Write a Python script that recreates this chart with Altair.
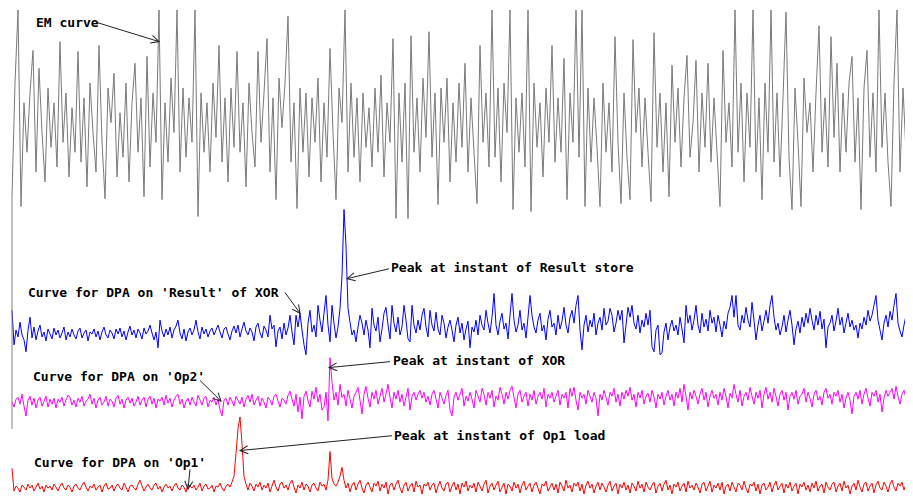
import math
import altair as alt
import pandas as pd

# ---------------- data ----------------
# EM curve (one sample every 3 time units)
em = [
    -85, 30, 104, -95, 10, -40, 20, 63, -60, 45,
    -20, -70, 25, -35, 10, -55, 72, -30, 20, -65,
    5, -40, 62, -50, 15, -75, 30, -20, -60, 68,
    -30, -87, 25, -10, 40, -65, 0, -45, 30, -70,
    10, 50, -40, 15, -85, 57, -55, 20, -30, 104,
    -88, 10, -50, 35, -20, 104, -60, 25, -45, 15,
    -30, 104, -105, 20, -40, 10, -60, 30, -25, 68,
    -50, 15, -70, 25, -35, 62, -40, 10, -75, 30,
    -20, -55, 62, -30, 20, 75, -60, 15, -88, 35,
    -15, 30, 98, -50, 10, -97, 25, -40, 20, -65,
    15, -30, 35, -70, 10, -45, 65, -20, -88, 25,
    -10, 104, -60, 30, -45, 15, -70, 20, -35, 5,
    -55, 25, -40, 38, -65, 10, -30, 75, -107, 20,
    -50, 30, -107, 78, -40, 15, -60, 35, -25, 82,
    -45, 20, -93, 25, -30, 35, -70, 10, -50, 30,
    -35, 50, -60, 15, -40, -92, 68, -30, 20, -55,
    104, -45, 25, -70, 30, -20, 104, -98, 15, -40,
    20, -55, 104, -100, 30, -35, 10, -65, 25, -30,
    68, -50, 15, -40, 55, -88, 20, -30, 104, -45,
    104, -95, 25, -50, 15, -35, -95, 30, -40, 10,
    -60, 77, -30, -92, 20, -45, -88, 74, -20, 25,
    -55, 15, -40, -90, 81, -35, 20, -60, 10, -85,
    48, -30, 25, -55, 15, 58, -45, -10, 53, -60,
    20, -35, 50, -50, 15, -40, -95, 63, -30, 10,
    -55, 104, -40, 30, -70, 20, -35, 104, -60, 15,
    -88, 30, -40, 104, -50, 20, -65, 15, 102, -45,
    -98, 25, -30, -95, 35, -20, 10, -60, 20, 88,
    -40, 15, -55, 77, -25, 50, -60, 20, -40, 30,
    57, -50, 15, -98, 25, 63, -45, 20, -60, 104,
    -35, 20, -50, -95, 30, 104, -60, 25, -40, 15,
]

# DPA on 'Result' of XOR (one sample every 2 time units)
dpa_result = [
    25, -10, 5, -2, 13, 0, -5, -17, 5, 18,
    -3, 8, -5, 4, 10, -2, 3, -6, 6, 1,
    -4, 7, 0, 5, -3, 2, 8, -5, 3, -2,
    6, 0, -4, 4, 7, -3, 2, 5, -6, 3,
    1, 6, -2, 4, -5, 3, 8, 0, -3, 5,
    2, -4, 6, 1, 7, -2, 4, -5, 3, 9,
    0, 5, -3, 6, 2, -4, 7, 1, 4, 10,
    2, -5, 3, -13, 15, 4, -2, 6, 0, 8,
    -3, 5, 9, 15, 2, -4, 6, -6, 3, 7,
    0, 5, 15, 3, -4, 8, 1, 6, -2, 4,
    7, 0, 5, 10, 3, -3, 6, 8, 1, -5,
    4, 9, 2, 10, -2, 6, 13, 4, 0, 7,
    3, -6, 8, 12, 2, -3, 9, 5, -2, 20,
    6, 10, -12, 4, 8, -4, 12, 0, 7, 20,
    3, -10, 20, 8, 22, 5, -10, -20, 12, 25,
    3, 10, -2, 30, 15, 3, 22, 40, 10, -7,
    30, 12, -3, 8, 27, 60, 127, 90, 27, 13,
    0, 5, -7, 8, 20, 12, 0, 15, 5, -13,
    27, 10, 4, 18, -7, 6, 22, 28, 10, -4,
    30, 12, 3, 18, 0, 8, 30, 15, -4, -7,
    30, 10, 2, 15, 5, 20, 27, 8, -2, 25,
    10, 4, 23, 6, 0, 20, 12, -3, 8, 15,
    5, -7, 10, 18, 2, 12, -5, 6, 14, -13,
    8, 3, 15, 0, 20, 10, 5, 25, 12, 2,
    18, 42, 10, 0, 14, 22, 6, 12, -4, 20,
    42, 15, 3, 10, 25, 5, 12, -3, 18, 40,
    20, 8, 2, 15, 22, 4, 10, -5, 16, 25,
    8, 12, 0, 20, 6, 14, 28, 10, 2, 18,
    25, 12, 30, 40, 5, -15, 10, 20, 3, 15,
    8, 22, 0, 12, 18, 5, 27, 10, 14, 27,
    20, 3, 12, 25, 15, 25, -8, 10, 28, 18,
    30, 12, 6, 20, 2, 15, 8, 22, 10, 25,
    -12, -17, 5, 10, -20, -18, 3, 12, -5, 8,
    15, 4, 10, 0, 18, 6, -8, 30, 12, 20,
    5, 15, 30, 10, 2, 22, 8, 16, 4, 25,
    12, 18, 3, 20, 10, -2, 14, 6, 22, 28,
    40, 18, 40, 10, 5, 20, 12, 28, 15, 8,
    33, 15, -5, 10, 20, 4, 14, 25, 12, 30,
    40, 18, 5, 12, 0, 8, 20, 3, 15, 25,
    10, -10, 6, 14, 2, 18, 8, 22, 12, 27,
    15, 5, 20, 10, 24, 6, 16, -13, 8, 12,
    20, 4, 14, 27, 10, 18, 2, 12, 22, 8,
    15, 5, 10, -3, 12, 6, 18, 10, 25, 14,
    20, 30, 40, 15, 5, -5, 12, 20, 8, 24,
    15, 30, 42, 12, 4, -2, 10, 20, 6, 17,
]

# DPA on 'Op2'
dpa_op2 = [
    0, -5, 3, 5, -2, 8, -4, -14, 2, 6,
    -3, 4, -6, 2, 5, -4, 1, 6, -5, 3,
    -2, 4, -6, 3, 0, 5, -4, 2, 7, 5,
    -3, 2, -5, 4, 0, 6, -4, 1, 3, 8,
    -2, 4, -6, 2, 5, -3, 0, 6, -4, 3,
    1, -5, 4, 7, -2, 3, -6, 2, 5, -1,
    4, -4, 0, 6, -3, 2, 5, -5, 3, 6,
    -2, 4, -6, 3, 1, 5, -3, 7, -1, 4,
    -5, 2, 6, 8, -2, 3, -6, 1, 4, -3,
    5, 0, -4, 7, 2, -3, 4, 6, -5, 2,
    0, 5, -3, 3, -8, -14, 2, 4, -3, 5,
    1, -4, 6, 2, -2, 5, -5, 3, 7, 0,
    8, -3, 2, 6, -4, 4, 0, -6, 5, 2,
    -3, 6, 8, 1, -5, 4, 2, -2, 7, 11,
    3, -4, 8, -10, 5, -17, 6, 11, 2, -5,
    11, 3, 15, 0, 8, -8, -5, 10, -19, 45,
    20, 2, 10, -3, 18, 5, 8, -4, 12, 3,
    -6, 6, 10, 15, 2, -12, 8, 16, 4, -5,
    10, 3, 12, -2, 6, 14, 0, 8, 18, 5,
    -6, 10, 3, 12, 0, 8, -4, 5, 14, -8,
    6, 10, 2, 8, 12, 4, 10, 0, 6, -3,
    8, 12, 3, -6, 10, 4, -2, 7, 12, -8,
    -14, 5, 10, 2, 8, 14, -4, 6, 1, 10,
    3, -6, 12, 6, 0, 14, 8, -3, 10, 4,
    12, -5, 6, 2, 15, 8, -2, 10, 3, 12,
    16, 5, -6, 8, 12, 0, 6, 10, -4, 8,
    2, 12, -2, 6, 10, 3, 14, -5, 8, 4,
    10, 0, 6, 12, -3, 8, 4, 10, -6, 14,
    6, 15, 2, -8, 10, 4, 8, -2, 12, 6,
    0, 10, 4, -14, 8, 2, 12, 5, -3, 10,
    6, 14, 0, 8, -4, 10, 3, 12, 6, 15,
    2, 8, -5, 10, 4, 12, -2, 6, 9, 0,
    12, 5, -6, 8, 3, 10, -3, 6, 12, 2,
    8, -4, 10, 4, 14, 0, 18, 6, -8, 10,
    3, 12, 6, -2, 8, 14, 2, 10, -5, 6,
    12, 4, 8, -3, 10, 2, 14, 6, -6, 9,
    4, 18, 8, 0, 12, -4, 6, 10, 2, 15,
    6, -2, 10, 4, 12, -6, 8, 15, 3, 10,
    0, 14, 6, -4, 8, 12, 2, 10, -8, 6,
    10, 3, 12, -2, 6, 8, 14, 0, 10, 4,
    -5, 8, 12, 2, 6, -3, 10, 14, 4, 8,
    -2, 10, 6, 12, 0, 8, -6, 4, 10, 2,
    -12, 6, 10, 3, 12, -2, 8, 14, 4, -4,
    10, 6, 12, 0, 8, -10, 4, 12, 6, 10,
    14, 3, 16, 6, -2, 8, 12, 4, 10, 6,
]

# DPA on 'Op1'
dpa_op1 = [
    20, -3, 2, 0, -4, 3, 1, -2, 4, 0,
    3, -3, 1, 5, -1, 2, -4, 3, 0, 2,
    -2, 4, 1, -3, 2, 5, 0, -2, 3, 1,
    -4, 2, 4, 0, -2, 3, 6, 1, -3, 2,
    0, 4, -2, 1, 3, -4, 2, 5, -1, 0,
    3, -3, 2, 4, 0, -2, 5, 1, -4, 2,
    3, 0, -2, 4, 8, 2, -3, 1, 4, 0,
    -2, 3, 5, -1, 2, -4, 1, 4, 0, 2,
    -3, 2, 5, 0, -2, 3, 1, -4, 4, 2,
    0, 3, -2, 1, 5, -3, 2, 4, -1, 0,
    3, -4, 2, 1, 5, 0, -3, 2, 4, 1,
    6, 12, 35, 60, 72, 45, 12, 4, -2, 5,
    2, -3, 4, 1, 6, -2, 3, 0, 5, -4,
    2, 8, 1, -3, 4, 6, 0, 3, -2, 5,
    8, 1, -5, 3, 0, 6, -2, 4, 2, -4,
    3, 5, 0, -3, 6, 2, 4, -2, 8, 37,
    10, 4, 2, 6, 12, 21, 8, 0, 5, -4,
    3, 6, -2, 4, 8, 0, -5, 3, 6, 1,
    -4, 5, 2, 7, -3, 4, 0, 6, -6, 3,
    5, -2, 4, 8, 0, -5, 3, 6, -3, 2,
    5, -4, 7, 1, 3, -6, 4, 2, 6, -2,
    3, 5, -5, 2, 7, 0, -3, 4, 6, -4,
    2, 6, -2, 4, -6, 5, 1, 7, -3, 3,
    0, 5, -4, 6, 2, -3, 4, 8, -5, 2,
    5, -2, 3, 7, -4, 1, 5, -6, 4, 2,
    -3, 6, 0, 4, -5, 3, 7, -2, 2, 5,
    -4, 3, 6, 0, -6, 4, 2, 7, -3, 1,
    5, -2, 4, -5, 6, 2, -3, 8, 0, 3,
    -4, 5, 2, 6, -3, 4, -6, 3, 7, 0,
    4, -5, 2, 6, -2, 5, 1, -4, 3, 7,
    -3, 2, 5, -6, 4, 0, 6, -2, 3, -5,
    5, 2, -3, 7, 0, 4, -4, 6, 1, -2,
    3, 6, -5, 2, 5, -3, 4, 8, -2, 3,
    -6, 4, 1, 6, -3, 2, 5, -4, 7, 0,
    3, -2, 5, 1, -5, 4, 6, -3, 2, 7,
    -4, 3, 0, 5, -2, 6, -6, 2, 4, -3,
    6, 1, -4, 5, 3, -2, 7, 0, -5, 4,
    2, 6, -3, 4, -6, 3, 5, -2, 1, 6,
    -4, 3, 7, -2, 2, 5, -5, 4, 0, 6,
    -3, 2, 5, -6, 4, 1, 6, -2, 3, -4,
    5, 0, 7, -3, 2, 4, -5, 6, 1, -2,
    4, 6, -4, 2, 5, -3, 7, 0, 3, -6,
    2, 5, -2, 8, 1, -4, 4, 6, -3, 2,
    5, -5, 3, 7, 0, -2, 6, 2, -4, 4,
    8, 1, -3, 5, 2, 6, -2, 4, 0, 3,
]

# annotation labels and anchors (time, value in the series' own units)
em_notes = [("EM curve", 24, 91, 86, 91, 147, 72)]
result_notes = [
    ("Curve for DPA on 'Result' of XOR", 16, 42, 273, 43, 288, 22),
    ("Peak at instant of Result store", 379, 68, 377, 67, 335, 57),
]
op2_notes = [
    ("Curve for DPA on 'Op2'", 21, 25, 188, 22, 209, 1),
    ("Peak at instant of XOR", 381, 42, 378, 41, 317, 35),
]
op1_notes = [
    ("Curve for DPA on 'Op1'", 22, 25, 178, 19, 176, -1),
    ("Peak at instant of Op1 load", 382, 53, 380, 53, 228, 38),
]

# ---------------- chart ----------------
FONT = "DejaVu Sans Mono"
ARROW = "#222222"
CHEVRON = "M-1,-0.5L0,0L-1,0.5"
W, H = 897, 488


def py(page_y):
    # vertical layout: squeeze the 10..502 band of the page into the plot
    return (page_y - 10) * 486 / 492 + 1


XS = alt.Scale(domain=[0, 900], range=[4, 904], nice=False, zero=False)

series = [
    # values, step, color, y domain, page-y span of that domain, notes
    (em, 3, "#7a7a7a", [-100, 100], (215, 15), em_notes),
    (dpa_result, 2, "#0000ff", [-40, 120], (380, 220), result_notes),
    (dpa_op2, 2, "#ff00ff", [-20, 40], (428, 368), op2_notes),
    (dpa_op1, 2, "#ff0000", [-10, 70], (505, 425), op1_notes),
]

layers = []
for vals, step, color, dom, span, notes in series:
    rng = [py(span[0]), py(span[1])]
    ys = alt.Scale(domain=dom, range=rng, nice=False, zero=False)
    df = pd.DataFrame({"t": [i * step for i in range(len(vals))], "v": vals})
    layers.append(
        alt.Chart(df).mark_line(color=color, strokeWidth=1, interpolate="linear")
        .encode(x=alt.X("t:Q", scale=XS, axis=None),
                y=alt.Y("v:Q", scale=ys, axis=None))
    )
    pxu = (rng[0] - rng[1]) / (dom[1] - dom[0])
    rows = []
    for label, tt, tv, a0, b0, a1, b1 in notes:
        ang = math.degrees(math.atan2(-(b1 - b0) * pxu, (a1 - a0))) % 360
        rows.append({"label": label, "tt": tt, "tv": tv,
                     "a0": a0, "b0": b0, "a1": a1, "b1": b1, "ang": ang})
    nd = pd.DataFrame(rows)
    base = alt.Chart(nd)
    layers.append(
        base.mark_text(align="left", baseline="middle", font=FONT, fontSize=13,
                       fontWeight="bold", color="black")
        .encode(x=alt.X("tt:Q", scale=XS, axis=None),
                y=alt.Y("tv:Q", scale=ys, axis=None), text="label:N")
    )
    layers.append(
        base.mark_rule(color=ARROW, strokeWidth=1)
        .encode(x=alt.X("a0:Q", scale=XS, axis=None),
                y=alt.Y("b0:Q", scale=ys, axis=None),
                x2="a1:Q", y2="b1:Q")
    )
    layers.append(
        base.mark_point(shape=CHEVRON, size=256, filled=False, color=ARROW,
                        strokeWidth=1, opacity=1)
        .encode(x=alt.X("a1:Q", scale=XS, axis=None),
                y=alt.Y("b1:Q", scale=ys, axis=None),
                angle=alt.Angle("ang:Q", scale=None))
    )

# left vertical guide line
layers.append(
    alt.Chart(pd.DataFrame({"t": [0]})).mark_rule(color="#808080", strokeWidth=1)
    .encode(x=alt.X("t:Q", scale=XS, axis=None),
            y=alt.value(py(200)), y2=alt.value(py(435)))
)

chart = (
    alt.layer(*layers)
    .resolve_scale(y="independent")
    .properties(width=W, height=H, padding=0,
                autosize=alt.AutoSizeParams(type="none"), background="white")
    .configure_view(stroke=None)
)

chart.save("out.html", embed_options={"renderer": "svg", "actions": False})
